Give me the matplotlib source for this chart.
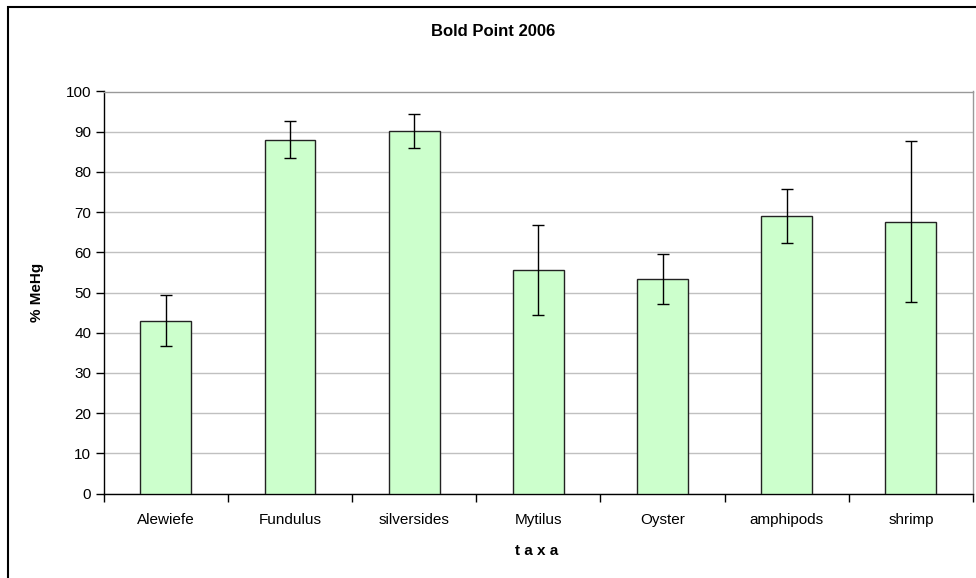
import matplotlib

matplotlib.use("Agg")
import matplotlib.pyplot as plt
import numpy as np
from matplotlib.patches import Rectangle

plt.rcParams["font.family"] = ["Liberation Sans", "DejaVu Sans"]

# values
taxa = ["Alewiefe", "Fundulus", "silversides", "Mytilus", "Oyster", "amphipods", "shrimp"]
pct_mehg = [43.0, 88.0, 90.1, 55.6, 53.4, 69.0, 67.6]
pct_err = [6.3, 4.6, 4.2, 11.2, 6.3, 6.7, 20.0]

W, H = 976, 578
fig = plt.figure(figsize=(W / 100, H / 100), dpi=100)
ax = fig.add_axes([103.7 / W, 1 - 493.5 / H, (973 - 103.7) / W, (493.5 - 91.5) / H])

x = np.arange(len(taxa))
ax.bar(x, pct_mehg, width=0.41, color="#ccffcc", edgecolor="#222222", linewidth=1.0, zorder=3)
ax.errorbar(x, pct_mehg, yerr=pct_err, fmt="none", ecolor="black", elinewidth=1.0,
            capsize=4, capthick=1.0, zorder=4)

ax.set_xlim(-0.5, len(taxa) - 0.5)
ax.set_ylim(0, 100)
ax.set_yticks(np.arange(0, 101, 10))
ax.yaxis.grid(True, color="#c0c0c0", linewidth=1.0, zorder=0)
ax.set_axisbelow(True)

ax.set_xticks(x)
ax.set_xticklabels(taxa, fontsize=11)
ax.set_xticks(np.arange(-0.5, len(taxa), 1.0), minor=True)
ax.tick_params(axis="x", which="major", length=0, pad=14)
ax.tick_params(axis="x", which="minor", length=6, width=1.0, direction="out")
ax.tick_params(axis="y", labelsize=11, length=6, width=1.0, direction="out", pad=3)

for side in ("left", "bottom"):
    ax.spines[side].set_color("black")
    ax.spines[side].set_linewidth(1.0)
for side in ("top", "right"):
    ax.spines[side].set_color("#999999")
    ax.spines[side].set_linewidth(1.0)

fig.text(493 / W, 1 - 32 / H, "Bold Point 2006", ha="center", va="center",
         fontsize=12, fontweight="bold")
fig.text(37 / W, 1 - 292 / H, "% MeHg", ha="center", va="center", rotation=90,
         fontsize=11, fontweight="bold")
fig.text(537 / W, 1 - 551 / H, "t a x a", ha="center", va="center",
         fontsize=11, fontweight="bold")

# outer chart frame, cut off at the right and bottom like the original
fig.patches.append(Rectangle((8 / W, -0.05), 1.1, 1 - 7 / H + 0.05, transform=fig.transFigure,
                             fill=False, edgecolor="black", linewidth=1.5))

fig.savefig("out.png", dpi=100)
plt.close(fig)
